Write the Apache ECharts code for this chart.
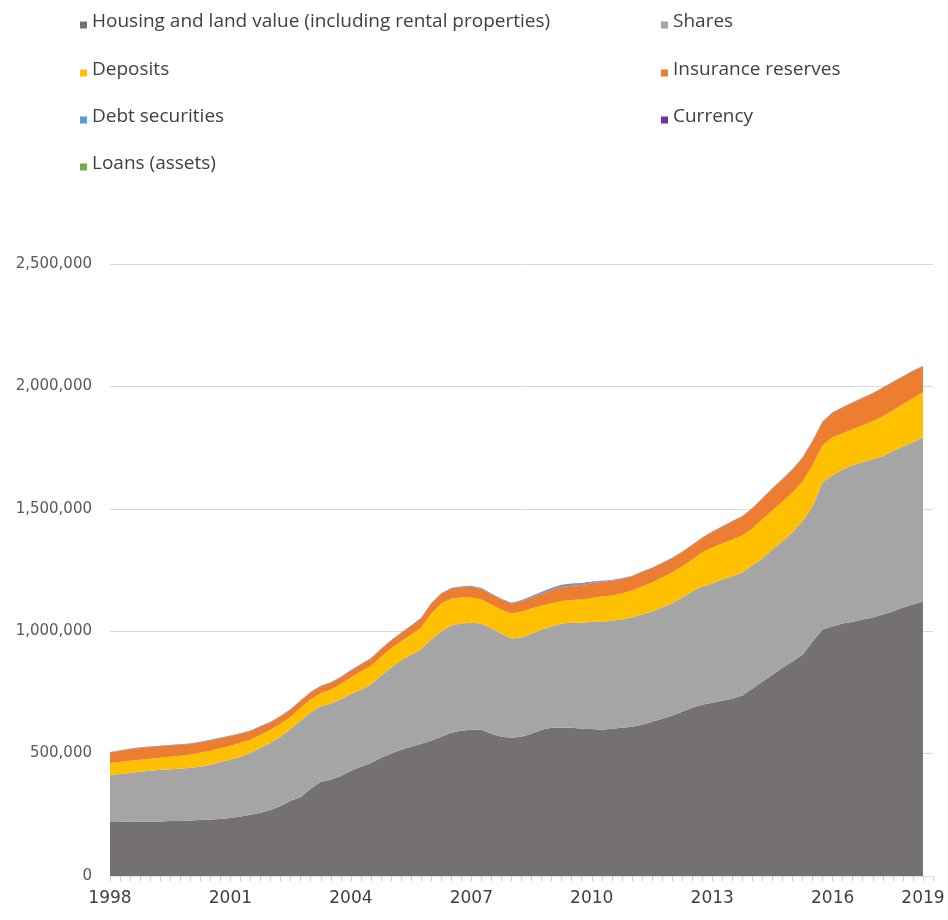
<!DOCTYPE html>
<html>
<head>
<meta charset="utf-8">
<title>Household assets</title>
<script src="https://cdn.jsdelivr.net/npm/echarts@6/dist/echarts.min.js"></script>
<style>
  html, body { margin: 0; padding: 0; background: #ffffff; }
  #chart { width: 948px; height: 920px; }
</style>
</head>
<body>
<div id="chart"></div>
<script>
// Quarterly household asset values, in thousands, stacked from the bottom up.
const housing = [
  221, 221, 223, 223, 223, 223, 225, 225, 227, 229,
  231, 233, 237, 243, 250, 258, 270, 286, 307, 323,
  356, 385, 393, 409, 430, 446, 462, 483, 499, 516,
  528, 540, 552, 569, 585, 593, 597, 597, 581, 569,
  565, 569, 581, 597, 606, 606, 606, 602, 600, 597,
  602, 606, 610, 618, 630, 642, 655, 671, 687, 700,
  708, 716, 724, 737, 765, 794, 822, 851, 876, 904,
  958, 1007, 1019, 1031, 1039, 1048, 1056, 1068, 1080, 1097,
  1109, 1121
];
const shares = [
  192, 196, 198, 203, 207, 211, 211, 213, 215, 217,
  223, 233, 238, 244, 253, 266, 274, 283, 294, 311,
  313, 308, 311, 312, 313, 315, 320, 335, 352, 364,
  376, 385, 414, 429, 438, 438, 438, 434, 430, 421,
  405, 405, 409, 410, 413, 425, 429, 433, 439, 442,
  441, 442, 446, 450, 450, 455, 458, 467, 475, 483,
  487, 495, 500, 503, 504, 503, 512, 516, 528, 545,
  552, 601, 618, 630, 639, 642, 646, 647, 655, 658,
  663, 671
];
const deposits = [
  49, 49, 50, 49, 49, 49, 51, 53, 53, 57,
  58, 56, 57, 57, 54, 53, 53, 53, 50, 53,
  53, 54, 58, 63, 68, 74, 76, 77, 78, 79,
  82, 90, 106, 115, 110, 107, 103, 98, 98, 98,
  102, 106, 103, 98, 95, 92, 92, 94, 97, 103,
  103, 106, 110, 115, 119, 122, 127, 126, 131, 139,
  147, 147, 151, 151, 151, 160, 160, 163, 163, 163,
  168, 152, 155, 148, 147, 151, 156, 163, 168, 172,
  180, 184
];
const insurance = [
  42, 45, 47, 48, 48, 47, 46, 45, 44, 43,
  42, 41, 39, 37, 35, 33, 31, 30, 29, 28,
  28, 28, 27, 27, 28, 29, 30, 31, 32, 33,
  35, 37, 40, 40, 41, 42, 44, 44, 42, 41,
  41, 42, 44, 48, 54, 58, 59, 60, 60, 60,
  60, 59, 58, 58, 58, 58, 58, 58, 58, 58,
  63, 68, 73, 77, 81, 85, 88, 90, 93, 96,
  98, 95, 100, 104, 108, 111, 113, 115, 114, 112,
  110, 107
];
const debtSecurities = [
  1, 1, 1, 1, 1, 1, 1, 1, 1, 1,
  1, 1, 1, 1, 1, 1, 1, 1, 1, 1,
  1, 1, 1, 1, 1, 1, 1, 1, 1, 1,
  1, 1, 1, 1, 1, 2, 2, 2, 2, 2,
  2, 3, 4, 5, 6, 6, 6, 5, 4, 3,
  2, 2, 1, 1, 1, 1, 1, 1, 1, 1,
  1, 1, 1, 1, 1, 1, 1, 1, 1, 1,
  1, 1, 1, 1, 1, 1, 1, 1, 1, 1,
  1, 1
];
const currency = [
  1, 1, 1, 1, 1, 1, 1, 1, 1, 1,
  1, 1, 1, 1, 1, 1, 1, 1, 1, 1,
  1, 1, 1, 1, 1, 1, 1, 1, 1, 1,
  1, 1, 1, 1, 1, 1, 1, 1, 1, 1,
  1, 1, 2, 2, 2, 2, 2, 2, 2, 1,
  1, 1, 1, 1, 1, 1, 1, 1, 1, 1,
  1, 1, 1, 1, 1, 1, 1, 1, 1, 1,
  1, 1, 1, 1, 1, 1, 1, 1, 1, 1,
  1, 1
];
const loans = [
  0.5, 0.5, 0.5, 0.5, 0.5, 0.5, 0.5, 0.5, 0.5, 0.5,
  0.5, 0.5, 0.5, 0.5, 0.5, 0.5, 0.5, 0.5, 0.5, 0.5,
  0.5, 0.5, 0.5, 0.5, 0.5, 0.5, 0.5, 0.5, 0.5, 0.5,
  0.5, 0.5, 0.5, 0.5, 0.5, 0.5, 0.5, 0.5, 0.5, 0.5,
  0.5, 0.5, 0.5, 0.5, 0.5, 0.5, 0.5, 0.5, 0.5, 0.5,
  0.5, 0.5, 0.5, 0.5, 0.5, 0.5, 0.5, 0.5, 0.5, 0.5,
  0.5, 0.5, 0.5, 0.5, 0.5, 0.5, 0.5, 0.5, 0.5, 0.5,
  0.5, 0.5, 0.5, 0.5, 0.5, 0.5, 0.5, 0.5, 0.5, 0.5,
  0.5, 0.5
];

// Axis tick labels: which quarter carries which year label.
const tickIndex = [0, 12, 24, 36, 48, 60, 72, 81];
const tickLabels = ['1998', '2001', '2004', '2007', '2010', '2013', '2016', '2019'];
const yTicks = [0, 500000, 1000000, 1500000, 2000000, 2500000];

const seriesNames = [
  'Housing and land value (including rental properties)',
  'Shares',
  'Deposits',
  'Insurance reserves',
  'Debt securities',
  'Currency',
  'Loans (assets)'
];
const seriesData = [housing, shares, deposits, insurance, debtSecurities, currency, loans];
const seriesColors = ['#767171', '#a5a5a5', '#ffc000', '#ed7d31', '#5b9bd5', '#7030a0', '#70ad47'];

// Quarter names for the category axis.
const quarters = housing.map(function (_, i) {
  return (1998 + Math.floor(i / 4)) + ' Q' + (i % 4 + 1);
});

// Two-column legend: [name index, left, top]
const legendSlots = [
  [0, 80, 12], [1, 661, 12],
  [2, 80, 60], [3, 661, 60],
  [4, 80, 107], [5, 661, 107],
  [6, 80, 154]
];
// Square sitting in the lower half of the icon box, like a text-baseline swatch.
const legendIcon = 'path://M0,0L0,0M0,7L7,7L7,14L0,14Z';

const chart = echarts.init(document.getElementById('chart'), null, { renderer: 'canvas' });

chart.setOption({
  backgroundColor: '#ffffff',
  animation: false,
  legend: legendSlots.map(function (slot) {
    return {
      data: [seriesNames[slot[0]]],
      left: slot[1],
      top: slot[2],
      padding: 0,
      icon: legendIcon,
      itemWidth: 7,
      itemHeight: 14,
      selectedMode: false,
      textStyle: {
        fontFamily: 'Open Sans',
        fontSize: 19,
        color: '#404040'
      }
    };
  }),
  grid: { left: 110, right: 15, top: 264, bottom: 44, containLabel: false },
  xAxis: {
    type: 'category',
    data: quarters,
    boundaryGap: false,
    max: quarters.length,
    axisLine: { show: true, lineStyle: { color: '#e3e3e3', width: 1 } },
    axisTick: {
      show: true,
      interval: 0,
      length: 5,
      lineStyle: { color: '#d0d0d0', width: 1 }
    },
    axisLabel: {
      interval: function (index) { return tickIndex.indexOf(index) >= 0; },
      formatter: function (value, index) {
        const k = tickIndex.indexOf(index);
        return k >= 0 ? tickLabels[k] : '';
      },
      margin: 14,
      fontFamily: 'DejaVu Sans',
      fontSize: 17,
      color: '#404040'
    },
    splitLine: { show: false }
  },
  yAxis: {
    type: 'value',
    min: yTicks[0],
    max: yTicks[yTicks.length - 1],
    interval: yTicks[1] - yTicks[0],
    axisLine: { show: false },
    axisTick: { show: false },
    axisLabel: {
      margin: 18,
      fontFamily: 'DejaVu Sans',
      fontSize: 15,
      color: '#595959',
      formatter: function (v) { return v.toLocaleString('en-US'); }
    },
    splitLine: { show: true, lineStyle: { color: '#d9d9d9', width: 1 } }
  },
  series: seriesNames.map(function (name, k) {
    return {
      name: name,
      type: 'line',
      stack: 'assets',
      data: seriesData[k].map(function (v) { return v * 1000; }),
      symbol: 'none',
      smooth: false,
      lineStyle: { width: 0 },
      areaStyle: { color: seriesColors[k], opacity: 1 },
      itemStyle: { color: seriesColors[k] },
      emphasis: { disabled: true }
    };
  })
});
</script>
</body>
</html>
